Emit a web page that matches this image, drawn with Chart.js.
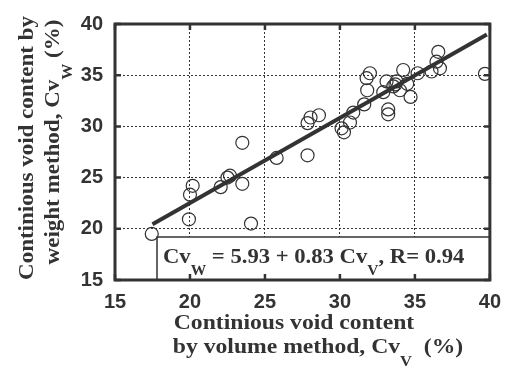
<!DOCTYPE html>
<html>
<head>
<meta charset="utf-8">
<script src="https://cdn.jsdelivr.net/npm/chart.js@4/dist/chart.umd.min.js"></script>
<style>
  html, body { margin: 0; padding: 0; background: #fff; overflow: hidden; }
  canvas { display: block; }
</style>
</head>
<body>
<canvas id="chart" width="511" height="370"></canvas>
<script>
// --- data ---
const volumeCv = [17.45, 19.93, 20.0, 20.18, 22.05, 22.67, 22.5, 23.49, 23.49, 24.07,
                  25.78, 27.84, 27.84, 28.04, 28.6, 30.11, 30.27, 30.67, 30.89, 31.62,
                  31.82, 31.78, 32.0, 33.22, 33.22, 32.89, 33.11, 33.56, 34.0, 33.78,
                  34.22, 34.49, 34.71, 35.18, 36.11, 36.44, 36.56, 36.67, 39.67, 33.7];
const weightCv = [19.5, 20.93, 23.33, 24.2, 24.07, 25.19, 25.0, 24.39, 28.4, 20.51,
                  26.92, 27.18, 30.32, 30.87, 31.09, 29.81, 29.42, 30.38, 31.35, 32.15,
                  33.53, 34.71, 35.19, 31.18, 31.66, 33.34, 34.39, 33.91, 33.53, 34.39,
                  35.51, 34.16, 32.88, 35.19, 35.36, 36.32, 37.28, 35.67, 35.13, 34.1];
const fitIntercept = 5.93;
const fitSlope = 0.83;
const fitRange = [17.5, 39.8];
const tickValues = [15, 20, 25, 30, 35, 40];

const ink = '#333';
const serif = '"Liberation Serif", "DejaVu Serif", serif';
const sans = '"Liberation Sans", Arial, sans-serif';

const points = volumeCv.map((x, i) => ({ x: x, y: weightCv[i] }));
const fitLine = fitRange.map(x => ({ x: x, y: fitIntercept + fitSlope * x }));

// text made of pieces, some of them subscripts, stretched sideways by sx
function richWidth(ctx, parts, size, subSize, sx) {
    let w = 0;
    parts.forEach(p => {
        ctx.font = 'bold ' + (p.sub ? subSize : size) + 'px ' + serif;
        w += ctx.measureText(p.t).width;
    });
    return w * sx;
}
function drawRich(ctx, parts, x, y, size, subSize, subDrop, sx) {
    ctx.save();
    ctx.translate(x, y);
    ctx.scale(sx, 1);
    let cx = 0;
    ctx.textBaseline = 'alphabetic';
    ctx.textAlign = 'left';
    parts.forEach(p => {
        ctx.font = 'bold ' + (p.sub ? subSize : size) + 'px ' + serif;
        ctx.fillText(p.t, cx, p.sub ? subDrop : 0);
        cx += ctx.measureText(p.t).width;
    });
    ctx.restore();
}

const framePlugin = {
    id: 'frame',
    afterDraw(chart) {
        const ctx = chart.ctx;
        const a = chart.chartArea;
        const xs = chart.scales.x, ys = chart.scales.y;
        ctx.save();
        ctx.fillStyle = ink;
        ctx.strokeStyle = ink;

        // equation box
        const eq = [{ t: 'Cv' }, { t: 'W', sub: true }, { t: ' = 5.93 + 0.83 Cv' }, { t: 'V', sub: true }, { t: ', R= 0.94' }];
        ctx.fillStyle = '#fff';
        ctx.fillRect(157, 237, a.right - 157, a.bottom - 237);
        ctx.lineWidth = 1.5;
        ctx.strokeRect(157, 237, a.right - 157, a.bottom - 237);
        ctx.fillStyle = ink;
        drawRich(ctx, eq, 163, 263, 22, 15, 12, 1.03);

        // frame
        ctx.lineWidth = 3;
        ctx.strokeRect(a.left, a.top, a.right - a.left, a.bottom - a.top);

        // inward ticks on all four sides
        ctx.lineWidth = 2.5;
        tickValues.forEach(v => {
            const px = xs.getPixelForValue(v);
            const py = ys.getPixelForValue(v);
            ctx.beginPath();
            ctx.moveTo(px, a.top); ctx.lineTo(px, a.top + 6);
            ctx.moveTo(px, a.bottom); ctx.lineTo(px, a.bottom - 6);
            ctx.moveTo(a.left, py); ctx.lineTo(a.left + 6, py);
            ctx.moveTo(a.right, py); ctx.lineTo(a.right - 6, py);
            ctx.stroke();
        });

        // x axis title
        const xl1 = [{ t: 'Continious void content' }];
        const xl2 = [{ t: 'by volume method, Cv' }, { t: 'V', sub: true }, { t: '  (%)' }];
        drawRich(ctx, xl1, 294 - richWidth(ctx, xl1, 21.5, 15, 1.1) / 2, 329, 21.5, 15, 13, 1.1);
        drawRich(ctx, xl2, 318 - richWidth(ctx, xl2, 21.5, 15, 1.1) / 2, 353, 21.5, 15, 13, 1.1);

        // y axis title, rotated
        const yl1 = [{ t: 'Continious void content by' }];
        const yl2 = [{ t: 'weight method, Cv' }, { t: 'W', sub: true }, { t: ' (%)' }];
        ctx.translate(33, 148);
        ctx.rotate(-Math.PI / 2);
        drawRich(ctx, yl1, -richWidth(ctx, yl1, 21.5, 15, 1.07) / 2, 0, 21.5, 15, 13, 1.07);
        drawRich(ctx, yl2, 6 - richWidth(ctx, yl2, 21.5, 15, 1.07) / 2, 26, 21.5, 15, 13, 1.07);
        ctx.restore();
    }
};

new Chart(document.getElementById('chart'), {
    type: 'scatter',
    data: {
        datasets: [{
            data: points,
            pointStyle: 'circle',
            pointRadius: 6.5,
            pointBorderWidth: 1.2,
            pointBorderColor: ink,
            pointBackgroundColor: 'rgba(0,0,0,0)',
            order: 2
        }, {
            type: 'line',
            data: fitLine,
            borderColor: ink,
            borderWidth: 4,
            pointRadius: 0,
            fill: false,
            order: 1
        }]
    },
    options: {
        responsive: false,
        animation: false,
        devicePixelRatio: 1,
        layout: { padding: { top: 20, right: 21, left: 0, bottom: 0 } },
        plugins: { legend: { display: false }, tooltip: { enabled: false } },
        scales: {
            x: {
                type: 'linear', min: 15, max: 40,
                afterBuildTicks: s => { s.ticks = tickValues.map(v => ({ value: v })); },
                afterFit: s => { s.height = 90; },
                grid: { color: ink, lineWidth: 1, drawTicks: false },
                border: { display: false, dash: [2, 2] },
                ticks: { color: ink, padding: 10, font: { family: sans, size: 20, weight: 'bold' } }
            },
            y: {
                type: 'linear', min: 15, max: 40,
                afterBuildTicks: s => { s.ticks = tickValues.map(v => ({ value: v })); },
                afterFit: s => { s.width = 115; },
                grid: { color: ink, lineWidth: 1, drawTicks: false },
                border: { display: false, dash: [2, 2] },
                ticks: { color: ink, padding: 12, font: { family: sans, size: 20, weight: 'bold' } }
            }
        }
    },
    plugins: [framePlugin]
});
</script>
</body>
</html>
